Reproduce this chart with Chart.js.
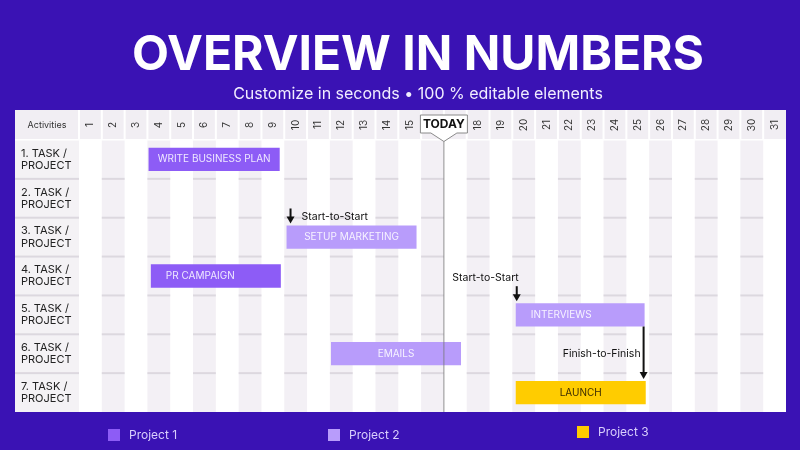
<!DOCTYPE html>
<html>
<head>
<meta charset="utf-8">
<script src="https://cdn.jsdelivr.net/npm/chart.js@4.4.0/dist/chart.umd.min.js"></script>
<style>
  html, body { margin: 0; padding: 0; background: #3a12b4; }
  #wrap { width: 800px; height: 450px; }
</style>
</head>
<body>
<div id="wrap"><canvas id="canvas" width="800" height="450"></canvas></div>
<script>
// Строки диаграммы (задачи)
const tasks = [
    ['1. TASK /', 'PROJECT'],
    ['2. TASK /', 'PROJECT'],
    ['3. TASK /', 'PROJECT'],
    ['4. TASK /', 'PROJECT'],
    ['5. TASK /', 'PROJECT'],
    ['6. TASK /', 'PROJECT'],
    ['7. TASK /', 'PROJECT']
];

// Дни месяца для шапки
const days = ['1', '2', '3', '4', '5', '6', '7', '8', '9', '10', '11', '12', '13', '14', '15', '16',
    '17', '18', '19', '20', '21', '22', '23', '24', '25', '26', '27', '28', '29', '30', '31'];

// Начало и конец каждого бара (в днях от начала месяца)
const project1 = [[3.05, 8.8], null, null, [3.15, 8.85], null, null, null];
const project2 = [null, null, [9.1, 14.8], null, [19.15, 24.8], [11.05, 16.75], null];
const project3 = [null, null, null, null, null, null, [19.15, 24.85]];

const barLabels = ['WRITE BUSINESS PLAN', '', 'SETUP MARKETING', 'PR CAMPAIGN', 'INTERVIEWS', 'EMAILS', 'LAUNCH'];
const labelAlign = ['center', 'center', 'center', 'left', 'left', 'center', 'center'];

const seriesNames = ['Project 1', 'Project 2', 'Project 3'];
const todayValue = 16;

// Связи между задачами
const links = [
    { row: 2, label: 'Start-to-Start', anchor: 'start', text: 'right' },
    { row: 4, label: 'Start-to-Start', anchor: 'start', text: 'above' },
    { row: 4, toRow: 6, label: 'Finish-to-Finish', anchor: 'end', text: 'left' }
];

const FONT = 'Inter, "Noto Sans", sans-serif';

function barOf(chart, row) {
    for (let i = 0; i < chart.data.datasets.length; i++) {
        if (chart.data.datasets[i].data[row]) return chart.getDatasetMeta(i).data[row];
    }
    return null;
}

function arrow(ctx, x, y1, y2) {
    ctx.beginPath();
    ctx.moveTo(x, y1);
    ctx.lineTo(x, y2 - 5);
    ctx.stroke();
    ctx.beginPath();
    ctx.moveTo(x - 4, y2 - 7);
    ctx.lineTo(x + 4, y2 - 7);
    ctx.lineTo(x, y2);
    ctx.closePath();
    ctx.fill();
}

// Фон таблицы: шапка, колонка задач, полосы дней
const panelPlugin = {
    id: 'panel',
    beforeDraw(chart) {
        const ctx = chart.ctx;
        const a = chart.chartArea;
        const xs = chart.scales.x;
        const ys = chart.scales.y;
        const left = 15, top = 110;
        ctx.save();
        ctx.fillStyle = '#ffffff';
        ctx.fillRect(left, top, a.right - left, a.bottom - top);

        // шапка
        ctx.fillStyle = '#f1eef3';
        ctx.fillRect(left, top, a.right - left, a.top - top);
        // колонка задач
        ctx.fillStyle = '#f4f2f5';
        ctx.fillRect(left, a.top, a.left - left, a.bottom - a.top);

        // чётные дни затенены
        const rowH = ys.getPixelForValue(1) - ys.getPixelForValue(0);
        days.forEach((d, i) => {
            if ((i + 1) % 2 === 0) {
                const x0 = xs.getPixelForValue(i), x1 = xs.getPixelForValue(i + 1);
                ctx.fillStyle = '#f3f0f5';
                ctx.fillRect(x0, a.top, x1 - x0, a.bottom - a.top);
                ctx.fillStyle = '#dcd8df';
                for (let r = 1; r < tasks.length; r++) {
                    const y = ys.getPixelForValue(r) - rowH / 2;
                    ctx.fillRect(x0, y - 1, x1 - x0, 2);
                }
            }
        });
        ctx.fillStyle = '#dcd8df';
        for (let r = 1; r < tasks.length; r++) {
            const y = ys.getPixelForValue(r) - rowH / 2;
            ctx.fillRect(left, y - 1, a.left - left, 2);
        }

        // разделители в шапке
        ctx.fillStyle = '#ffffff';
        for (let i = 0; i < days.length; i++) {
            const x = xs.getPixelForValue(i);
            ctx.fillRect(x - 1, top, 2, a.top - top);
        }
        ctx.fillRect(left, a.top - 1, a.right - left, 1.5);

        ctx.fillStyle = '#333333';
        ctx.font = '9px ' + FONT;
        ctx.textAlign = 'center';
        ctx.textBaseline = 'middle';
        ctx.fillText('Activities', (left + a.left) / 2, (top + a.top) / 2);

        ctx.font = '10px ' + FONT;
        days.forEach((d, i) => {
            ctx.save();
            ctx.translate(xs.getPixelForValue(i + 0.5), (top + a.top) / 2);
            ctx.rotate(-Math.PI / 2);
            ctx.fillText(d, 0, 0);
            ctx.restore();
        });
        ctx.restore();
    }
};

// Подписи баров, линия "TODAY", стрелки связей
const overlayPlugin = {
    id: 'overlay',
    afterDatasetsDraw(chart) {
        const ctx = chart.ctx;
        const a = chart.chartArea;
        const xs = chart.scales.x;
        ctx.save();

        ctx.font = '10px ' + FONT;
        ctx.textBaseline = 'middle';
        chart.data.datasets.forEach((ds, di) => {
            const meta = chart.getDatasetMeta(di);
            ds.data.forEach((v, i) => {
                if (!v || !barLabels[i]) return;
                const el = meta.data[i];
                const x0 = Math.min(el.base, el.x), x1 = Math.max(el.base, el.x);
                ctx.fillStyle = di === 2 ? '#3b2b00' : (di === 0 ? '#efe9ff' : '#f6f2ff');
                if (labelAlign[i] === 'left') {
                    ctx.textAlign = 'left';
                    ctx.fillText(barLabels[i], x0 + 15, el.y);
                } else {
                    ctx.textAlign = 'center';
                    ctx.fillText(barLabels[i], (x0 + x1) / 2, el.y);
                }
            });
        });

        // TODAY
        const tx = xs.getPixelForValue(todayValue);
        ctx.strokeStyle = 'rgba(120,120,120,0.8)';
        ctx.lineWidth = 1;
        ctx.beginPath();
        ctx.moveTo(tx, 141);
        ctx.lineTo(tx, a.bottom);
        ctx.stroke();
        ctx.fillStyle = '#ffffff';
        ctx.strokeStyle = '#8a8a8a';
        ctx.beginPath();
        ctx.moveTo(tx - 23.5, 115);
        ctx.lineTo(tx + 23.5, 115);
        ctx.lineTo(tx + 23.5, 133);
        ctx.lineTo(tx + 13, 133);
        ctx.lineTo(tx, 141.5);
        ctx.lineTo(tx - 13, 133);
        ctx.lineTo(tx - 23.5, 133);
        ctx.closePath();
        ctx.fill();
        ctx.stroke();
        ctx.fillStyle = '#111111';
        ctx.font = 'bold 12px ' + FONT;
        ctx.textAlign = 'center';
        ctx.fillText('TODAY', tx, 124.5);

        // связи
        ctx.fillStyle = '#111111';
        ctx.strokeStyle = '#111111';
        ctx.lineWidth = 2;
        ctx.font = '10.5px ' + FONT;
        links.forEach(l => {
            const b = barOf(chart, l.row);
            const top = b.y - b.height / 2, bottom = b.y + b.height / 2;
            const x0 = Math.min(b.base, b.x), x1 = Math.max(b.base, b.x);
            if (l.toRow === undefined) {
                const x = l.text === 'right' ? x0 + 4 : x0 + 1;
                arrow(ctx, x, top - 17, top - 2);
                if (l.text === 'right') {
                    ctx.textAlign = 'left';
                    ctx.fillText(l.label, x + 11, top - 9);
                } else {
                    ctx.textAlign = 'right';
                    ctx.fillText(l.label, x + 2, top - 25);
                }
            } else {
                const t = barOf(chart, l.toRow);
                const x = x1 - 1;
                const ty = t.y - t.height / 2;
                arrow(ctx, x, bottom, ty - 2);
                ctx.textAlign = 'right';
                ctx.fillText(l.label, x - 3, (bottom + ty) / 2);
            }
        });
        ctx.restore();
    },
    afterDraw(chart) {
        const ctx = chart.ctx;
        ctx.save();
        ctx.fillStyle = '#ffffff';
        ctx.textAlign = 'center';
        ctx.textBaseline = 'alphabetic';
        ctx.font = 'bold 48px ' + FONT;
        ctx.fillText('OVERVIEW IN NUMBERS', 418, 70);
        ctx.font = '16px ' + FONT;
        ctx.fillStyle = '#f1edff';
        ctx.fillText('Customize in seconds \u2022 100 % editable elements', 418, 99);

        // легенда
        const legendX = [108, 328, 577];
        const legendY = [435, 435, 432];
        ctx.font = '12px ' + FONT;
        ctx.textAlign = 'left';
        ctx.textBaseline = 'middle';
        chart.data.datasets.forEach((ds, i) => {
            ctx.fillStyle = ds.backgroundColor;
            ctx.fillRect(legendX[i], legendY[i] - 6, 12, 12);
            ctx.fillStyle = '#d9cffd';
            ctx.fillText(ds.label, legendX[i] + 21, legendY[i]);
        });
        ctx.restore();
    }
};

const ctx = document.getElementById('canvas').getContext('2d');
new Chart(ctx, {
    type: 'bar',
    data: {
        labels: tasks,
        datasets: [
            { label: seriesNames[0], data: project1, backgroundColor: '#8d5cf6', grouped: false, barPercentage: 0.6, categoryPercentage: 1 },
            { label: seriesNames[1], data: project2, backgroundColor: '#b89cfb', grouped: false, barPercentage: 0.6, categoryPercentage: 1 },
            { label: seriesNames[2], data: project3, backgroundColor: '#ffcc00', grouped: false, barPercentage: 0.6, categoryPercentage: 1 }
        ]
    },
    options: {
        indexAxis: 'y',
        responsive: false,
        animation: false,
        layout: { padding: { left: 21, right: 14, top: 110, bottom: 38 } },
        plugins: {
            legend: { display: false },
            tooltip: { enabled: false }
        },
        scales: {
            x: {
                type: 'linear',
                position: 'top',
                min: 0,
                max: 31,
                grid: { display: false },
                border: { display: false },
                ticks: { display: false },
                afterFit(scale) { scale.height = 30; }
            },
            y: {
                grid: { display: false },
                border: { display: false },
                ticks: {
                    crossAlign: 'far',
                    padding: 0,
                    color: '#222222',
                    font: { family: FONT, size: 11, lineHeight: 1.1 }
                },
                afterFit(scale) { scale.width = 58; }
            }
        }
    },
    plugins: [panelPlugin, overlayPlugin]
});
</script>
</body>
</html>
